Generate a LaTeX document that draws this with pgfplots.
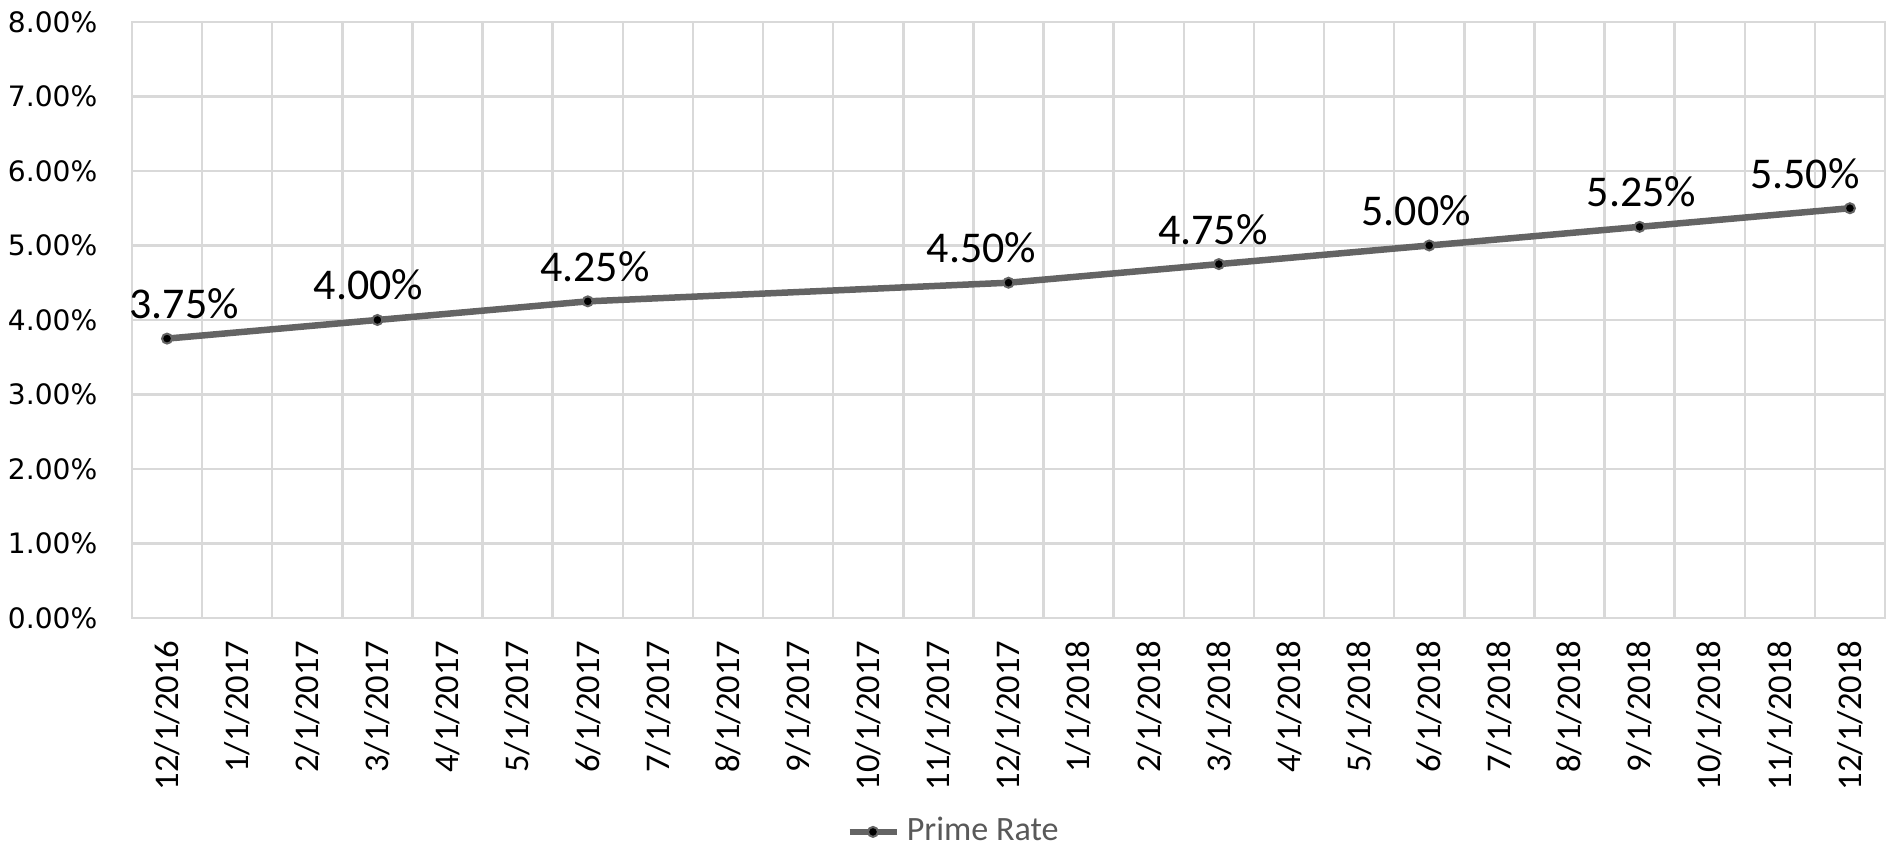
\documentclass[border=0pt]{standalone}
\usepackage{fontspec}
\setmainfont{Carlito}
\newfontfamily\ylabfont{DejaVu Sans}
\usepackage{pgfplots}
\usepackage{pgfplotstable}
\pgfplotsset{compat=1.18}

\definecolor{gridgray}{HTML}{D9D9D9}
\definecolor{linegray}{HTML}{646464}
\definecolor{legendgray}{HTML}{595959}

% month index (0 = 12/1/2016), prime rate in percent, label offset (0.1 mm)
\pgfplotstableread{
x  y     dx
0  3.75  17
3  4.00  -9
6  4.25  7
12 4.50  -27
15 4.75  -6
18 5.00  -13
21 5.25  2
24 5.50  -45
}\primerate

\begin{document}
\begin{tikzpicture}
\begin{axis}[
  scale only axis,
  width=17.53cm, height=5.96cm,
  xmin=-0.5, xmax=24.5,
  ymin=0, ymax=8,
  xtick={0,...,24},
  xticklabels={12/1/2016,1/1/2017,2/1/2017,3/1/2017,4/1/2017,5/1/2017,6/1/2017,7/1/2017,8/1/2017,9/1/2017,10/1/2017,11/1/2017,12/1/2017,1/1/2018,2/1/2018,3/1/2018,4/1/2018,5/1/2018,6/1/2018,7/1/2018,8/1/2018,9/1/2018,10/1/2018,11/1/2018,12/1/2018},
  minor xtick={-0.5,0.5,...,24.5},
  ytick={0,1,...,8},
  xmajorgrids=false, xminorgrids=true, ymajorgrids=true,
  grid style={draw=gridgray, line width=0.25mm},
  minor grid style={draw=gridgray, line width=0.25mm},
  axis line style={draw=gridgray, line width=0.25mm},
  major tick length=0pt, minor tick length=0pt,
  /pgf/number format/assume math mode=true,
  yticklabel={\pgfmathprintnumber[fixed,fixed zerofill,precision=2]{\tick}\%},
  yticklabel style={font=\ylabfont\fontsize{8}{9}\selectfont, text=black, inner sep=0pt, anchor=east, xshift=-3.4mm},
  xticklabel style={font=\fontsize{9.85}{11}\selectfont, text=black, rotate=90, anchor=east, inner sep=0pt},
  xticklabel shift=2.2mm,
  legend style={draw=none, fill=none, at={(0.47,-0.359)}, anchor=center,
    font=\fontsize{9.7}{11}\selectfont, text=legendgray, inner sep=0pt},
  legend image code/.code={%
    \draw[mark repeat=2, mark phase=2, #1] plot coordinates {(0cm,0cm) (0.235cm,0cm) (0.47cm,0cm)};},
  clip=false,
]
\addplot[
  color=linegray, line width=0.65mm,
  mark=*, mark size=0.5mm,
  mark options={fill=black, draw=linegray, line width=0.2mm},
  point meta=y,
  visualization depends on={\thisrow{dx} \as \dx},
  nodes near coords={\pgfmathprintnumber[fixed,fixed zerofill,precision=2]{\pgfplotspointmeta}\%},
  every node near coord/.append style={font=\fontsize{12.5}{14}\selectfont, text=black,
    anchor=base, inner sep=0pt, xshift=0.1mm*\dx, yshift=2mm},
] table[x=x, y=y] {\primerate};
\addlegendentry{Prime Rate}
\coordinate (SW) at (rel axis cs:0,0);
\coordinate (NE) at (rel axis cs:1,1);
\end{axis}
\pgfresetboundingbox
\path ([xshift=-1.32cm, yshift=-2.31cm]SW) rectangle ([xshift=0.05cm, yshift=0.22cm]NE);
\end{tikzpicture}
\end{document}
